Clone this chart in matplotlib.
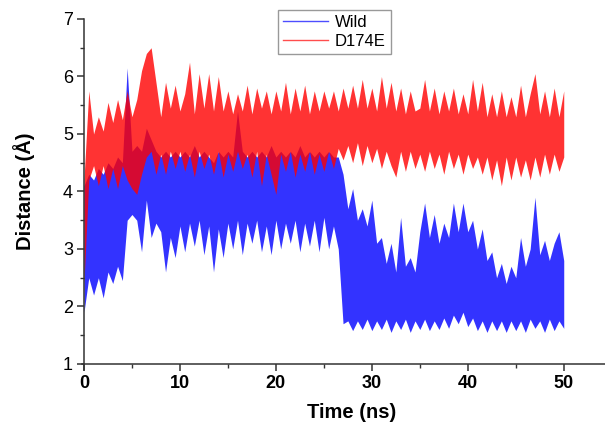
import numpy as np
import matplotlib
matplotlib.use("Agg")
import matplotlib.pyplot as plt
from matplotlib.lines import Line2D

plt.rcParams["font.family"] = ["Liberation Sans", "DejaVu Sans"]

# %%
# Envelope of the two distance traces, read every 0.5 ns (upper / lower edge,
# alternating spike tips and the solid core of the trace)
time_ns = np.arange(0, 50.5, 0.5)

wild_hi = [4.1, 4.3, 4.2, 4.4, 4.3, 4.5, 4.4, 4.6, 4.5, 6.15,
           4.7, 4.8, 4.7, 5.1, 4.9, 4.7, 4.6, 4.7, 4.6, 4.7,
           4.6, 4.7, 4.6, 4.8, 4.6, 4.7, 4.6, 4.5, 4.7, 4.6,
           4.7, 4.6, 5.4, 4.7, 4.6, 4.7, 4.6, 4.7, 4.6, 4.8,
           4.6, 4.7, 4.6, 4.7, 4.6, 4.8, 4.6, 4.7, 4.6, 4.7,
           4.6, 4.7, 4.6, 4.6, 4.3, 3.7, 4.05, 3.5, 3.7, 3.4,
           3.85, 3.1, 3.2, 2.75, 3.1, 2.6, 3.55, 2.7, 2.85, 2.6,
           3.3, 3.8, 3.2, 3.6, 3.1, 3.45, 3.2, 3.8, 3.3, 3.8,
           3.3, 3.5, 3.0, 3.35, 2.8, 2.95, 2.5, 2.75, 2.4, 2.7,
           2.5, 3.2, 2.7, 3.0, 3.9, 2.9, 3.15, 2.8, 3.1, 3.3,
           2.8]
wild_lo = [1.9, 2.5, 2.2, 2.5, 2.15, 2.6, 2.4, 2.7, 2.45, 3.5,
           3.6, 3.5, 2.95, 3.85, 3.2, 3.45, 3.3, 2.6, 3.2, 2.85,
           3.4, 2.95, 3.45, 3.05, 3.5, 2.9, 3.4, 2.6, 3.35, 2.85,
           3.45, 3.0, 3.5, 2.9, 3.45, 3.1, 3.5, 2.95, 3.4, 2.9,
           3.5, 3.0, 3.45, 3.1, 3.5, 2.95, 3.45, 3.05, 3.5, 2.95,
           3.55, 3.0, 3.4, 3.0, 1.7, 1.75, 1.58, 1.75, 1.6, 1.78,
           1.58, 1.75, 1.6, 1.78, 1.55, 1.75, 1.6, 1.78, 1.55, 1.75,
           1.6, 1.78, 1.58, 1.75, 1.6, 1.8, 1.62, 1.85, 1.7, 1.9,
           1.65, 1.8, 1.58, 1.75, 1.55, 1.75, 1.58, 1.75, 1.55, 1.75,
           1.58, 1.75, 1.55, 1.78, 1.62, 1.75, 1.55, 1.78, 1.58, 1.75,
           1.62]

d174e_hi = [4.2, 5.75, 5.0, 5.3, 5.05, 5.55, 5.2, 5.6, 5.25, 5.75,
            5.3, 5.6, 6.1, 6.4, 6.5, 5.9, 5.3, 5.9, 5.45, 5.85,
            5.4, 5.7, 6.25, 5.35, 6.05, 5.45, 6.05, 5.4, 6.0, 5.4,
            5.75, 5.35, 5.7, 5.4, 5.85, 5.35, 5.8, 5.45, 5.75, 5.35,
            5.75, 5.4, 5.9, 5.35, 5.8, 5.4, 5.85, 5.35, 5.75, 5.4,
            5.75, 5.45, 5.75, 5.4, 5.8, 5.45, 5.85, 5.45, 5.95, 5.45,
            5.8, 5.4, 6.0, 5.45, 5.9, 5.4, 5.8, 5.35, 5.75, 5.4,
            5.45, 5.95, 5.4, 5.8, 5.35, 5.75, 5.4, 5.8, 5.35, 5.7,
            5.35, 5.95, 5.4, 5.9, 5.3, 5.7, 5.3, 5.75, 5.3, 5.65,
            5.3, 5.85, 5.3, 5.7, 6.05, 5.35, 5.75, 5.3, 5.8, 5.3,
            5.75]
d174e_lo = [2.4, 4.2, 4.45, 4.1, 4.45, 4.05, 4.4, 4.05, 4.45, 4.2,
            4.05, 3.95, 4.3, 4.6, 4.7, 4.3, 4.65, 4.3, 4.7, 4.4,
            4.7, 4.35, 4.65, 4.25, 4.7, 4.4, 4.65, 4.3, 4.7, 4.25,
            4.65, 4.35, 4.7, 4.4, 4.65, 4.25, 4.7, 4.1, 4.65, 4.3,
            3.95, 4.65, 4.35, 4.7, 4.25, 4.65, 4.35, 4.7, 4.3, 4.65,
            4.35, 4.7, 4.4, 4.75, 4.55, 4.8, 4.5, 4.85, 4.45, 4.8,
            4.5, 4.75, 4.4, 4.7, 4.45, 4.25, 4.7, 4.35, 4.7, 4.4,
            4.65, 4.35, 4.7, 4.4, 4.65, 4.3, 4.7, 4.4, 4.65, 4.3,
            4.65, 4.4, 4.6, 4.3, 4.6, 4.2, 4.55, 4.1, 4.6, 4.2,
            4.6, 4.25, 4.55, 4.2, 4.6, 4.25, 4.65, 4.3, 4.65, 4.35,
            4.6]

labels = ["Wild", "D174E"]
wild_color = (0.2, 0.2, 1.0)
d174e_color = (1.0, 0.0, 0.0, 0.8)

# %%
fig = plt.figure(figsize=(6.05, 4.23), dpi=100)
ax = fig.add_axes([0.1388, 0.1395, 0.8612, 0.8156])

ax.fill_between(time_ns, wild_lo, wild_hi, color=wild_color, linewidth=0)
ax.fill_between(time_ns, d174e_lo, d174e_hi, color=d174e_color, linewidth=0)

ax.set_xlim(0, 54.3)
ax.set_ylim(1, 7)
ax.set_xticks([0, 10, 20, 30, 40, 50])
ax.set_xticks(np.arange(5, 55, 10), minor=True)
ax.set_yticks(range(1, 8))
ax.set_yticks(np.arange(1.5, 7, 1), minor=True)

for side in ("top", "right"):
    ax.spines[side].set_visible(False)
for side in ("left", "bottom"):
    ax.spines[side].set_color("#333333")
    ax.spines[side].set_linewidth(1.1)
ax.spines["left"].set_bounds(0.9, 7)
ax.spines["bottom"].set_bounds(-0.25, 54.3)

ax.tick_params(which="major", direction="out", length=5, width=1.1,
               color="#333333", labelsize=13, pad=3)
ax.tick_params(which="minor", direction="out", length=3, width=1.0,
               color="#333333")
for lab in ax.get_xticklabels():
    lab.set_fontweight("bold")

ax.set_xlabel("Time (ns)", fontsize=14.5, fontweight="bold", va="top")
ax.set_ylabel("Distance (Å)", fontsize=14.5, fontweight="bold")
ax.xaxis.set_label_coords(0.514, -0.113)
ax.yaxis.set_label_coords(-0.094, 0.5)

handles = [Line2D([], [], color=(0.3, 0.3, 1.0), lw=1),
           Line2D([], [], color=(1.0, 0.3, 0.3), lw=1)]
fig.legend(handles, labels, loc="upper left", bbox_to_anchor=(0.4595, 0.976),
           borderaxespad=0, fontsize=12, frameon=True, fancybox=False,
           edgecolor="#999999", framealpha=1, handlelength=2.7,
           handletextpad=0.4, labelspacing=0.25, borderpad=0.3)

fig.savefig("out.png", dpi=100)
